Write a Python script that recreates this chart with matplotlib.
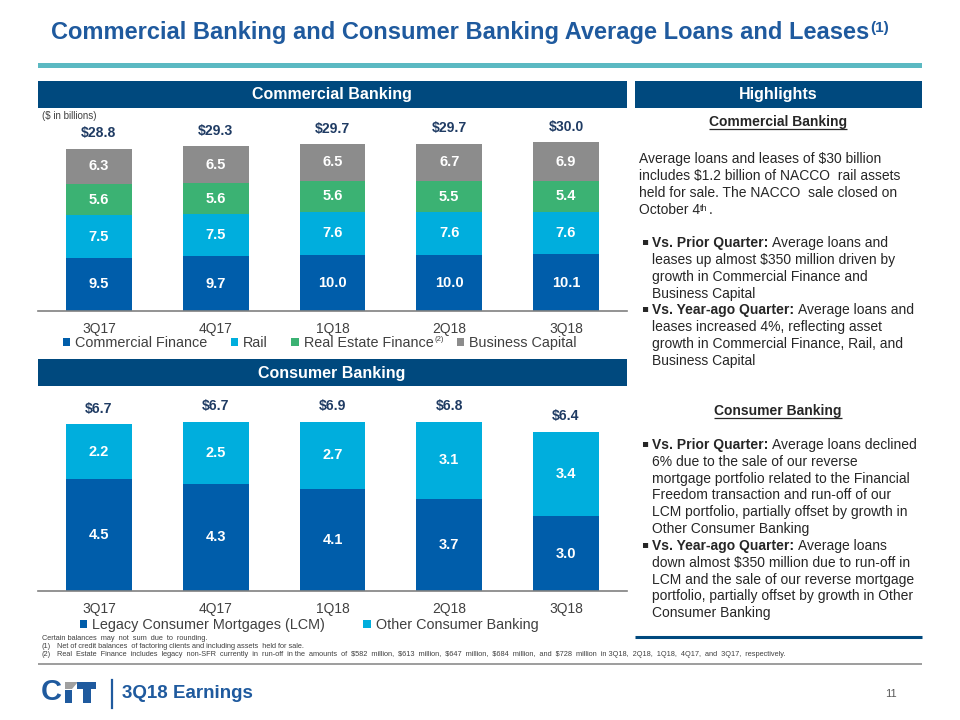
import matplotlib
matplotlib.use('Agg')
import matplotlib.pyplot as plt
from matplotlib.patches import Rectangle, Polygon
from matplotlib.lines import Line2D
from matplotlib.text import Annotation
from matplotlib import font_manager

# ---------------- data ----------------
quarters = ['3Q17', '4Q17', '1Q18', '2Q18', '3Q18']
commercial_finance = [9.5, 9.7, 10.0, 10.0, 10.1]
rail = [7.5, 7.5, 7.6, 7.6, 7.6]
real_estate_finance = [5.6, 5.6, 5.6, 5.5, 5.4]
business_capital = [6.3, 6.5, 6.5, 6.7, 6.9]
commercial_totals = [28.8, 29.3, 29.7, 29.7, 30.0]
legacy_consumer_mortgages = [4.5, 4.3, 4.1, 3.7, 3.0]
other_consumer_banking = [2.2, 2.5, 2.7, 3.1, 3.4]
consumer_totals = [6.7, 6.7, 6.9, 6.8, 6.4]

# ---------------- style ----------------
names = {f.name for f in font_manager.fontManager.ttflist}
NARROW = 'Liberation Sans Narrow' if 'Liberation Sans Narrow' in names else 'Liberation Sans'
NSCALE = 1.0 if NARROW == 'Liberation Sans Narrow' else 0.88
plt.rcParams['font.family'] = ['Liberation Sans', 'DejaVu Sans']

NAVY = '#00497E'
TITLE = '#1F5A9E'
CF = '#005DAA'
RAIL = '#00AEDD'
REF = '#3BB273'
BC = '#8C8C8C'
TOTAL = '#1F3B63'
TEAL = '#5BB9C2'
TXT = '#262626'
GRAYTXT = '#404040'

W, H = 960, 720
fig = plt.figure(figsize=(9.6, 7.2), dpi=100)
fig.patch.set_facecolor('white')


def fx(x):
    return x / W


def fy(y):
    return 1 - y / H


def rect(x0, y0, x1, y1, color):
    fig.add_artist(Rectangle((fx(x0), fy(y1)), (x1 - x0) / W, (y1 - y0) / H,
                             transform=fig.transFigure, facecolor=color,
                             edgecolor='none'))


def hline(x0, x1, y, color, lw):
    fig.add_artist(Line2D([fx(x0), fx(x1)], [fy(y), fy(y)], transform=fig.transFigure,
                          color=color, lw=lw, solid_capstyle='butt'))


def text(x, y, s, **kw):
    kw.setdefault('va', 'center')
    return fig.text(fx(x), fy(y), s, **kw)


def sup(parent, s, size, color, dx=0.5, xy=(1, 1), va='top', **kw):
    a = Annotation(s, xy=xy, xycoords=parent, xytext=(dx, 0),
                   textcoords='offset points', ha='left', va=va,
                   fontsize=size, color=color, annotation_clip=False, **kw)
    fig.add_artist(a)
    return a


# ---------------- title ----------------
t = text(51, 33, 'Commercial Banking and Consumer Banking Average Loans and Leases',
         fontsize=17, weight='bold', color=TITLE)
sup(t, '(1)', 11, TITLE, xy=(1, 1.02), weight='bold')
rect(38, 63, 922, 68, TEAL)

# header bars
rect(38, 81, 627, 108, NAVY)
text(332, 95, 'Commercial Banking', ha='center', fontsize=11.5, weight='bold', color='white')
rect(635, 81, 922, 108, NAVY)
text(778, 95, 'Highlights', ha='center', fontsize=11.5, weight='bold', color='white')
rect(38, 359, 627, 386, NAVY)
text(332, 373, 'Consumer Banking', ha='center', fontsize=11.5, weight='bold', color='white')

text(42, 116, r'(\$ in billions)', fontsize=7, color=GRAYTXT)

# ---------------- charts ----------------
SP = 116.75          # pixel spacing between bar centers
C0 = 99              # pixel center of first bar
BW = 0.565


def make_axes(top, base, px_per_unit):
    ax = fig.add_axes([fx(38), fy(base), (627 - 38) / W, (base - top) / H])
    ax.set_xlim(-(C0 - 38) / SP, 4 + (627 - (C0 + 4 * SP)) / SP)
    ax.set_ylim(0, (base - top) / px_per_unit)
    for s in ['top', 'left', 'right']:
        ax.spines[s].set_visible(False)
    ax.spines['bottom'].set_color('#808080')
    ax.spines['bottom'].set_linewidth(1.2)
    ax.set_yticks([])
    ax.set_xticks(range(len(quarters)), quarters)
    ax.tick_params(axis='x', length=0, pad=8, labelsize=10.5 * NSCALE / 0.92, labelcolor=GRAYTXT)
    for lab in ax.get_xticklabels():
        lab.set_family([NARROW, 'Liberation Sans'])
    ax.patch.set_alpha(0)
    return ax


def stack(ax, series, colors, labels, totals, lsize, tsize):
    xs = list(range(len(quarters)))
    bottoms = [0.0] * len(xs)
    for vals, col, lab in zip(series, colors, labels):
        ax.bar(xs, vals, width=BW, bottom=bottoms, color=col, label=lab, edgecolor='none')
        for i, v in enumerate(vals):
            ax.text(i, bottoms[i] + v / 2, f'{v:.1f}', ha='center', va='center',
                    color='white', weight='bold', fontsize=lsize,
                    family=[NARROW, 'Liberation Sans'])
        bottoms = [b + v for b, v in zip(bottoms, vals)]
    for i, tot in enumerate(totals):
        ax.annotate(f'\\${tot:.1f}', xy=(i, bottoms[i]), xytext=(0, 11), textcoords='offset points',
                    ha='center', va='center', color=TOTAL, weight='bold', fontsize=tsize,
                    family=[NARROW, 'Liberation Sans'])


ax1 = make_axes(120, 311, 5.62)
stack(ax1, [commercial_finance, rail, real_estate_finance, business_capital],
      [CF, RAIL, REF, BC],
      ['Commercial Finance', 'Rail', 'Real Estate Finance', 'Business Capital'],
      commercial_totals, 12 * NSCALE, 11.5 * NSCALE)
leg1 = ax1.legend(loc='center left', bbox_to_anchor=(fx(63), fy(343)), bbox_transform=fig.transFigure,
                  ncol=4, frameon=False, fontsize=10.4, handlelength=0.5, handleheight=0.5,
                  handletextpad=0.35, columnspacing=1.62, borderaxespad=0, borderpad=0)
for tx in leg1.get_texts():
    tx.set_color(GRAYTXT)
sup(leg1.get_texts()[2], '(2)', 5.5, GRAYTXT, xy=(1, 1))

ax2 = make_axes(395, 591, 24.9)
stack(ax2, [legacy_consumer_mortgages, other_consumer_banking], [CF, RAIL],
      ['Legacy Consumer Mortgages (LCM)', 'Other Consumer Banking'],
      consumer_totals, 12 * NSCALE, 11.5 * NSCALE)
leg2 = ax2.legend(loc='center left', bbox_to_anchor=(fx(80), fy(625)), bbox_transform=fig.transFigure,
                  ncol=2, frameon=False, fontsize=10.4, handlelength=0.5, handleheight=0.5,
                  handletextpad=0.35, columnspacing=2.65, borderaxespad=0, borderpad=0)
for tx in leg2.get_texts():
    tx.set_color(GRAYTXT)

# ---------------- highlights ----------------
HS = 10
fig.canvas.draw()
renderer = fig.canvas.get_renderer()


def heading(xc, y, s):
    tt = text(xc, y, s, ha='center', fontsize=HS, weight='bold', color=TXT)
    bb = tt.get_window_extent(renderer)
    hline(bb.x0, bb.x1, y + 7, TXT, 0.9)
    return tt


def bullet(y, bold, rest, more, step):
    text(641, y - 2, '\u25aa', fontsize=7.5, color=TXT, family=['DejaVu Sans'])
    b = text(652, y, bold, fontsize=HS, weight='bold', color=TXT)
    a = Annotation(rest, xy=(1, 0.5), xycoords=b, xytext=(2.5, 0), textcoords='offset points',
                   ha='left', va='center', fontsize=HS, color=TXT, annotation_clip=False)
    fig.add_artist(a)
    for k, line in enumerate(more):
        text(652, y + step * (k + 1), line, fontsize=HS, color=TXT)


heading(778, 122, 'Commercial Banking')
para = ['Average loans and leases of \\$30 billion',
        'includes \\$1.2 billion of NACCO  rail assets',
        'held for sale. The NACCO  sale closed on',
        'October 4']
for k, line in enumerate(para):
    tt = text(639, 159 + 17 * k, line, fontsize=HS, color=TXT)
sth = sup(tt, 'th', 6.5, TXT, dx=0.2, xy=(1, 0.95))
fig.add_artist(Annotation('.', xy=(1, 0.5), xycoords=(sth, tt), xytext=(0.3, 0),
                          textcoords='offset points', ha='left', va='center', fontsize=HS,
                          color=TXT, annotation_clip=False))

bullet(243, 'Vs. Prior Quarter:', 'Average loans and',
       ['leases up almost \\$350 million driven by',
        'growth in Commercial Finance and',
        'Business Capital'], 16.9)
bullet(310, 'Vs. Year-ago Quarter:', 'Average loans and',
       ['leases increased 4%, reflecting asset',
        'growth in Commercial Finance, Rail, and',
        'Business Capital'], 16.9)

heading(778, 411, 'Consumer Banking')
bullet(445, 'Vs. Prior Quarter:', 'Average loans declined',
       ['6% due to the sale of our reverse',
        'mortgage portfolio related to the Financial',
        'Freedom transaction and run-off of our',
        'LCM portfolio, partially offset by growth in',
        'Other Consumer Banking'], 16.8)
bullet(546, 'Vs. Year-ago Quarter:', 'Average loans',
       ['down almost \\$350 million due to run-off in',
        'LCM and the sale of our reverse mortgage',
        'portfolio, partially offset by growth in Other',
        'Consumer Banking'], 16.8)
hline(635, 922, 637, NAVY, 2.2)

# ---------------- footnotes ----------------
FN = 5.3
text(42, 639, 'Certain balances  may  not  sum  due  to  rounding.', fontsize=FN, color=GRAYTXT,
     family=[NARROW, 'Liberation Sans'])
text(42, 646, '(1)', fontsize=FN, color=GRAYTXT, family=[NARROW, 'Liberation Sans'])
text(57, 646, 'Net of credit balances  of factoring clients and including assets  held for sale.',
     fontsize=FN, color=GRAYTXT, family=[NARROW, 'Liberation Sans'])
text(42, 654, '(2)', fontsize=FN, color=GRAYTXT, family=[NARROW, 'Liberation Sans'])
text(57, 654, 'Real  Estate  Finance  includes  legacy  non-SFR  currently  in  run-off  in the  amounts  of  \\$582  million,  '
     '\\$613  million,  \\$647  million,  \\$684  million,  and  \\$728  million  in 3Q18,  2Q18,  1Q18,  4Q17,  and  3Q17,  respectively.',
     fontsize=FN, color=GRAYTXT, family=[NARROW, 'Liberation Sans'])
hline(38, 922, 664, '#8C8C8C', 1.2)

# ---------------- footer ----------------
text(41, 692.5, 'C', fontsize=21, weight='heavy', color=TITLE)
rect(65, 690, 72, 703, TITLE)                       # i stem
fig.add_artist(Polygon([[fx(65), fy(682)], [fx(78), fy(682)], [fx(72), fy(689)], [fx(65), fy(689)]],
                       closed=True, transform=fig.transFigure, facecolor='#A0A0A0', edgecolor='none'))
rect(77, 682, 96, 689, TITLE)                       # T bar
rect(82.5, 689, 90.5, 703, TITLE)                   # T stem
fig.add_artist(Line2D([fx(112), fx(112)], [fy(680), fy(708)], transform=fig.transFigure,
                      color=TITLE, lw=1.6))
text(122, 694, '3Q18 Earnings', fontsize=13.5, weight='bold', color=TITLE)
text(891, 694, '11', fontsize=8, color='#595959', ha='center')

fig.savefig('out.png', dpi=100, facecolor='white')
